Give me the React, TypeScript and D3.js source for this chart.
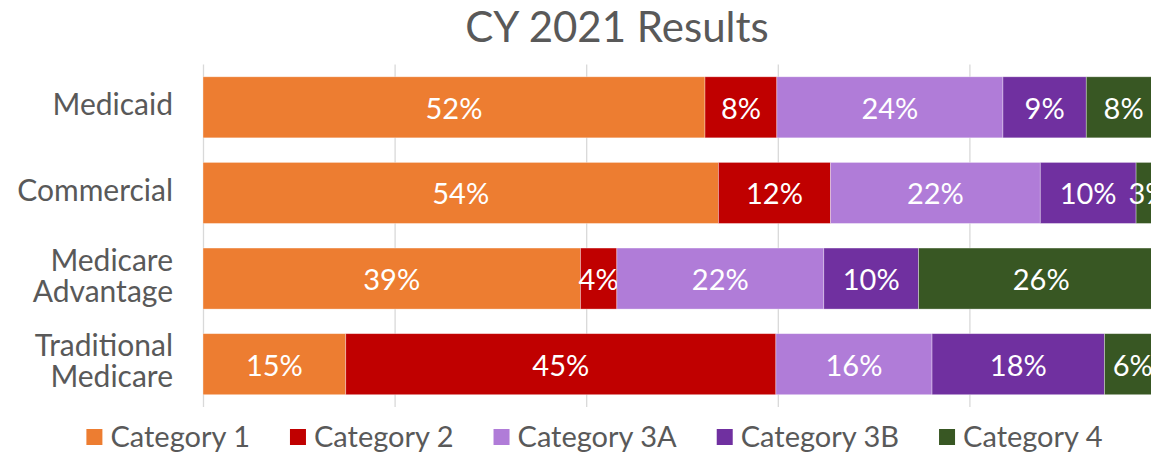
import React, { useEffect, useRef } from "react";
import * as d3 from "d3";

const categories = ["Medicaid", "Commercial", "Medicare Advantage", "Traditional Medicare"];
const categoryLines = [["Medicaid"], ["Commercial"], ["Medicare", "Advantage"], ["Traditional", "Medicare"]];
const seriesNames = ["Category 1", "Category 2", "Category 3A", "Category 3B", "Category 4"];
const category1 = [52.4, 53.8, 39.4, 14.9];
const category2 = [7.5, 11.7, 3.8, 44.9];
const category3A = [23.6, 21.9, 21.6, 16.3];
const category3B = [8.7, 10.0, 9.9, 18.0];
const category4 = [7.8, 2.6, 25.6, 5.9];
const seriesColors = ["#ED7D31", "#C00000", "#B07CD8", "#7030A0", "#385723"];
const xTicks = [0, 20, 40, 60, 80, 100];
const title = "CY 2021 Results";

const W = 1151;
const H = 452;
const FONT = "Lato, 'Open Sans', sans-serif";
const TEXT = "#595959";

export default function App() {
  const ref = useRef<SVGSVGElement | null>(null);

  useEffect(() => {
    document.body.style.margin = "0";
    const svg = d3.select(ref.current);
    svg.selectAll("*").remove();

    const seriesValues = [category1, category2, category3A, category3B, category4];
    const rows = categories.map((c, i) => {
      const o: any = { category: c };
      seriesNames.forEach((s, j) => (o[s] = seriesValues[j][i]));
      return o;
    });
    const stacked = d3.stack<any>().keys(seriesNames)(rows);

    const x = d3.scaleLinear().domain([0, 100]).range([203, 1161]);
    const y = d3
      .scaleBand<string>()
      .domain(categories)
      .range([64.5, 407])
      .paddingInner(0.287)
      .paddingOuter(0.1435);

    // title
    svg
      .append("text")
      .attr("x", 617)
      .attr("y", 42)
      .attr("text-anchor", "middle")
      .attr("fill", TEXT)
      .style("font-family", FONT)
      .style("font-size", "42px")
      .text(title);

    // gridlines
    svg
      .append("g")
      .selectAll("line")
      .data(xTicks)
      .join("line")
      .attr("x1", (d) => x(d) + 0.5)
      .attr("x2", (d) => x(d) + 0.5)
      .attr("y1", 64.5)
      .attr("y2", 407)
      .attr("stroke", "#D9D9D9")
      .attr("stroke-width", 1.3);

    // bars
    const g = svg.append("g");
    stacked.forEach((layer, si) => {
      const lg = g.append("g");
      lg.selectAll("rect")
        .data(layer)
        .join("rect")
        .attr("x", (d) => x(d[0]))
        .attr("width", (d) => x(d[1]) - x(d[0]))
        .attr("y", (d) => y(d.data.category)!)
        .attr("height", y.bandwidth())
        .attr("fill", seriesColors[si])
        .attr("stroke", "rgba(255,255,255,0.45)")
        .attr("stroke-width", 0.75);
      lg.selectAll("text")
        .data(layer)
        .join("text")
        .attr("x", (d) => (x(d[0]) + x(d[1])) / 2)
        .attr("y", (d) => y(d.data.category)! + y.bandwidth() / 2 + 11.5)
        .attr("text-anchor", "middle")
        .attr("fill", "#FFFFFF")
        .style("font-family", FONT)
        .style("font-size", "29px")
        .text((d) => `${Math.round(d[1] - d[0])}%`);
    });

    // category labels
    const cg = svg.append("g");
    categories.forEach((c, i) => {
      const lines = categoryLines[i];
      const cy = y(c)! + y.bandwidth() / 2;
      const t = cg
        .append("text")
        .attr("text-anchor", "end")
        .attr("fill", TEXT)
        .style("font-family", FONT)
        .style("font-size", "30px");
      lines.forEach((ln, k) => {
        const base = lines.length === 1 ? cy + 8 : cy - 8 + k * 31;
        t.append("tspan").attr("x", 173).attr("y", base).text(ln);
      });
    });

    // legend
    const leg = svg.append("g");
    const items = seriesNames.map((s, i) => {
      const it = leg.append("g");
      it.append("rect").attr("x", 0).attr("y", 429).attr("width", 16).attr("height", 16).attr("fill", seriesColors[i]);
      const t = it
        .append("text")
        .attr("x", 24)
        .attr("y", 447)
        .attr("fill", TEXT)
        .style("font-family", FONT)
        .style("font-size", "29px")
        .text(s);
      const w = 24 + (t.node() as SVGTextElement).getComputedTextLength();
      return { it, w };
    });
    const gap = 40;
    const total = d3.sum(items, (d) => d.w) + gap * (items.length - 1);
    let cx = 594.5 - total / 2;
    items.forEach(({ it, w }) => {
      it.attr("transform", `translate(${cx},0)`);
      cx += w + gap;
    });
  }, []);

  return (
    <svg
      ref={ref}
      width={W}
      height={H}
      style={{ position: "absolute", left: 0, top: 0, background: "#fff", display: "block" }}
    />
  );
}
